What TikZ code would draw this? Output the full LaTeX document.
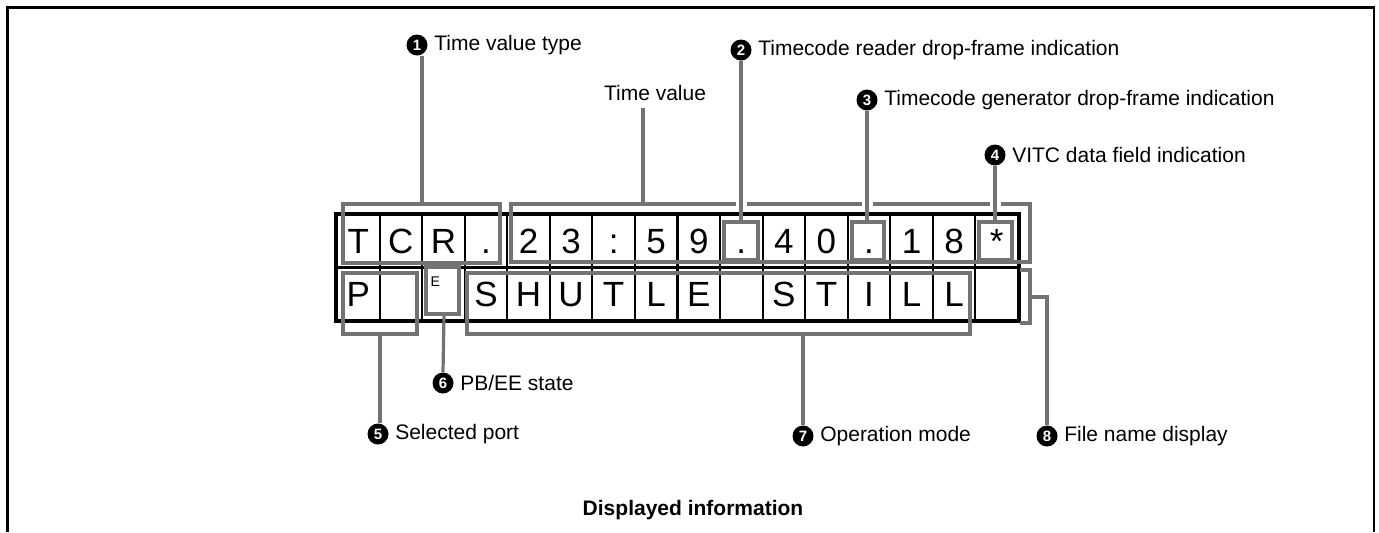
\documentclass[tikz,border=0pt]{standalone}
\usepackage{fontspec}
\setmainfont{Liberation Sans}
\usetikzlibrary{calc}
\tikzset{
  cellbox/.style={draw=black, line width=1pt, minimum width=21.3pt, minimum height=26pt,
    inner sep=0pt, text height=12.6pt, text depth=0pt,
    font=\fontsize{17.5}{17.5}\selectfont, anchor=south west},
  brack/.style={draw=black!55, line width=1.6pt},
  leader/.style={draw=black!55, line width=1.6pt},
  knock/.style={draw=white, line width=5.5pt},
  num/.style={circle, fill=black, text=white, inner sep=0pt, minimum size=10.5pt,
    font=\fontsize{7.5}{7.5}\selectfont\bfseries},
  lbl/.style={font=\fontsize{10.5}{12}\selectfont, anchor=west, inner sep=0pt}
}
\newcommand{\callout}[4]{% name, number, position, text
  \node[num] (#1) at #3 {#2};
  \node[lbl] (#1t) at ($(#1.east)+(3pt,0)$) {#4};
}
\begin{document}
\begin{tikzpicture}[x=0.5pt, y=-0.5pt]
\useasboundingbox (0,0) rectangle (1379,532);
% frame
\draw[line width=1.1pt] (7.5,532) -- (7.5,7.5) -- (1374,7.5) -- (1374,532);

% display cells
\foreach \c [count=\i from 0] in {T,C,R,.,2,3,:,5,9,.,4,0,.,1,8,*}
  \node[cellbox] (u\i) at ({336+\i*42.56},268) {\c};
\foreach \c [count=\i from 0] in {P,{},{},S,H,U,T,L,E,{},S,T,I,L,L,{}}
  \node[cellbox] (d\i) at ({336+\i*42.56},321) {\c};
\node[font=\fontsize{7}{7}\selectfont, anchor=north west, inner sep=0pt] (esmall) at ($(d2.north west)+(4.5pt,-4.5pt)$) {E};
\draw[line width=1.6pt] (u0.north west) rectangle (d15.south east);

% brackets round the fields
\draw[brack] (343,204) rectangle (500,263);
\draw[brack] (511,204) rectangle (1030,262);
\draw[brack] (724,222) rectangle (758,260);
\draw[brack] (852,222) rectangle (884,260);
\draw[brack] (979,222) rectangle (1012,260);
\draw[brack] (343,273) rectangle (417,334);
\draw[brack] (426,267) rectangle (459,314);
\draw[brack] (467,273) rectangle (970,334);
\draw[brack] (1020,270) -- (1030,270) -- (1030,323) -- (1020,323);

% callouts
\callout{c1}{1}{(417,45)}{Time value type}
\callout{c2}{2}{(741,50)}{Timecode reader drop-frame indication}
\callout{c3}{3}{(867,100)}{Timecode generator drop-frame indication}
\callout{c4}{4}{(995,155)}{VITC data field indication}
\callout{c5}{5}{(378,434)}{Selected port}
\callout{c6}{6}{(443,383)}{PB/EE state}
\callout{c7}{7}{(803,436)}{Operation mode}
\callout{c8}{8}{(1047,436)}{File name display}
\node[font=\fontsize{10.5}{12}\selectfont] (tv) at (655,93) {Time value};

% leaders
\draw[leader] (c1.south -| 422,0) -- (422,204);
\draw[leader] (tv.south -| 643,0) -- (643,204);
\foreach \x in {741,867,995}
  \draw[knock] (\x,199) -- (\x,209);
\draw[leader] (c2.south) -- (741,222);
\draw[leader] (c3.south) -- (867,222);
\draw[leader] (c4.south) -- (995,222);
\draw[leader] (380,334) -- (c5.north -| 380,0);
\draw[leader] (444,314) -- (c6.north);
\draw[leader] (803,334) -- (c7.north);
\coordinate (f8) at (1030,297);
\draw[leader] (f8) -- (1047,297) -- (c8.north);

\node[font=\fontsize{10.5}{12}\selectfont\bfseries] (cap) at (693,510) {Displayed information};
\end{tikzpicture}
\end{document}
